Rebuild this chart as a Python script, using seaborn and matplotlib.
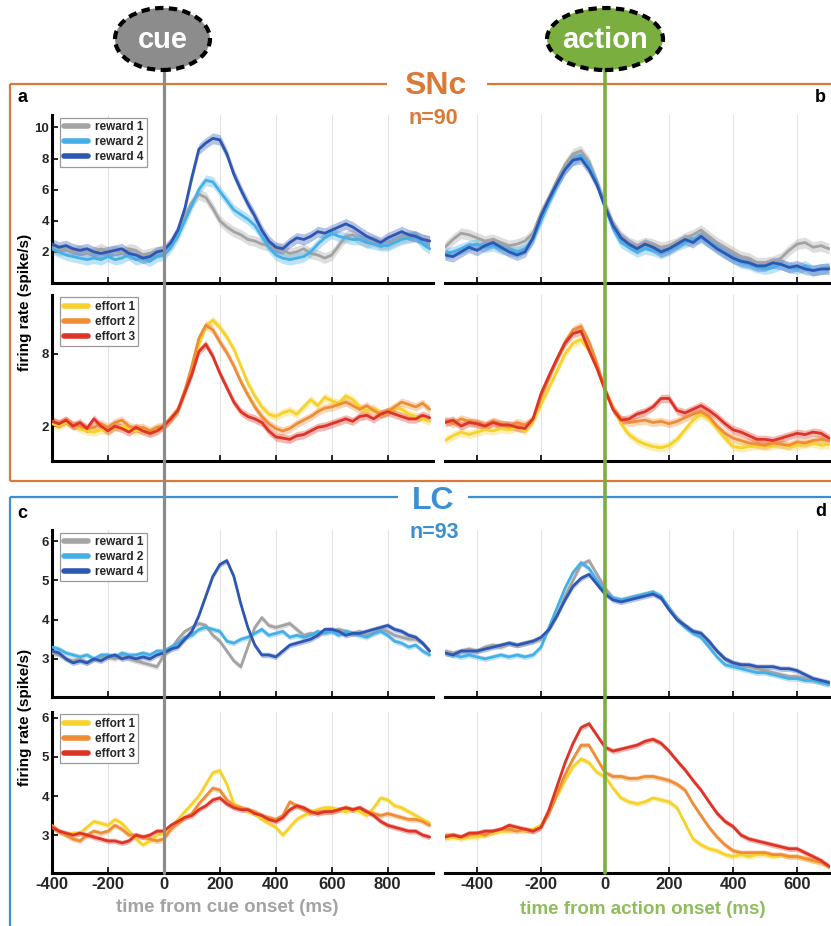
import numpy as np
import pandas as pd
import matplotlib
matplotlib.use("Agg")
import matplotlib.pyplot as plt
import seaborn as sns
from matplotlib.lines import Line2D
from matplotlib.patches import Ellipse
from matplotlib.transforms import blended_transform_factory

# ---------------- data ----------------
cue_time = np.arange(-400, 951, 25)      # ms from cue onset
action_time = np.arange(-500, 701, 25)   # ms from action onset

reward_labels = ["reward 1", "reward 2", "reward 4"]
effort_labels = ["effort 1", "effort 2", "effort 3"]

# SNc, cue aligned, reward
snc_cue_r1 = [2.3,2.1,2.2,2.0, 2.1,1.9,2.0,2.2, 2.0,2.1,1.9,2.2, 2.1,1.8,1.9,2.0,
              2.0,2.5,3.2,4.3, 5.2,5.7,5.5,4.8, 4.0,3.6,3.3,3.1, 2.8,2.7,2.5,2.4,
              2.2,2.1,1.9,2.0, 2.2,1.9,1.8,1.6, 1.8,2.4,3.0,3.1, 2.8,2.6,2.7,2.5,
              2.5,2.7,2.9,3.0, 3.0,2.8,2.7]
snc_cue_r2 = [2.2,2.0,1.8,1.7, 1.6,1.5,1.6,1.5, 1.7,1.5,1.6,1.8, 1.5,1.6,1.4,1.7,
              1.8,2.3,3.0,4.0, 5.0,6.0,6.6,6.5, 5.9,5.3,4.7,4.4, 4.1,3.7,3.0,2.3,
              1.8,1.6,1.5,1.6, 1.7,2.0,2.5,2.9, 3.2,3.0,2.9,2.8, 2.8,2.6,2.5,2.4,
              2.4,2.6,2.8,2.9, 3.0,2.5,2.2]
snc_cue_r4 = [2.5,2.3,2.4,2.2, 2.1,2.2,2.0,1.9, 2.0,2.1,2.2,1.9, 1.8,1.6,1.7,2.0,
              2.1,2.6,3.4,4.8, 6.8,8.6,9.0,9.3, 9.2,8.3,7.0,6.0, 5.1,4.3,3.4,2.7,
              2.3,2.2,2.6,2.9, 2.8,3.0,3.3,3.2, 3.4,3.6,3.8,3.6, 3.3,3.0,2.8,2.6,
              2.9,3.1,3.3,3.1, 3.0,2.8,2.7]
# SNc, cue aligned, effort
snc_cue_e1 = [2.2,2.0,2.3,2.1, 1.8,1.6,1.5,1.7, 1.6,1.9,2.0,1.8, 1.6,1.7,1.5,1.8,
              2.0,2.6,3.3,4.8, 6.5,8.8,10.3,10.8, 10.2,9.4,8.4,7.0, 5.6,4.5,3.6,3.0,
              2.8,3.1,3.3,3.0, 3.6,4.2,3.7,4.4, 4.1,3.9,4.5,4.2, 3.6,3.2,3.5,3.0,
              3.2,3.5,3.4,3.0, 2.8,2.6,2.4]
snc_cue_e2 = [2.4,2.2,2.5,2.1, 2.0,1.8,1.9,2.2, 1.9,2.3,2.5,2.0, 1.8,1.9,1.6,1.9,
              2.0,2.7,3.4,5.0, 7.0,9.3,10.4,10.0, 9.0,8.1,7.0,5.7, 4.6,3.6,2.8,2.2,
              1.8,1.6,1.8,2.2, 2.5,2.8,3.2,3.5, 3.6,3.8,4.0,3.7, 3.4,3.7,3.3,3.0,
              3.2,3.6,4.0,3.8, 3.6,3.9,3.4]
snc_cue_e3 = [2.4,2.2,2.5,2.0, 2.3,1.8,2.6,2.0, 1.6,2.0,1.8,1.5, 1.9,1.6,1.4,1.6,
              2.0,2.6,3.3,4.8, 6.3,8.2,8.8,7.8, 6.4,5.2,4.0,3.2, 2.8,2.6,2.3,1.6,
              1.1,1.0,0.9,1.2, 1.3,1.6,1.9,2.0, 2.2,2.4,2.6,2.4, 2.8,2.9,2.6,3.0,
              3.2,3.0,2.8,2.6, 2.6,2.9,2.7]
# SNc, action aligned, reward
snc_act_r1 = [2.3,2.8,3.2,3.1, 2.9,2.7,2.8,2.6, 2.4,2.5,2.7,3.2, 4.5,5.5,6.6,7.6,
              8.3,8.5,7.8,6.5, 5.1,3.8,3.0,2.6, 2.4,2.6,2.5,2.3, 2.4,2.6,2.9,3.1,
              3.4,3.0,2.6,2.3, 2.0,1.7,1.6,1.3, 1.3,1.4,1.6,2.1, 2.5,2.6,2.3,2.4, 2.2]
snc_act_r2 = [1.9,2.0,2.2,2.4, 2.5,2.3,2.4,2.2, 2.1,2.0,2.2,2.8, 4.0,5.2,6.3,7.3,
              7.9,8.2,7.6,6.4, 4.9,3.5,2.6,2.3, 2.0,2.2,2.1,1.9, 2.1,2.4,2.6,2.8,
              2.9,2.6,2.3,1.9, 1.6,1.3,1.2,1.0, 0.9,1.0,1.2,1.0, 0.9,1.1,0.8,0.9, 1.0]
snc_act_r4 = [1.8,1.7,2.0,2.3, 2.1,2.4,2.6,2.3, 2.0,1.8,2.0,2.9, 4.3,5.4,6.4,7.3,
              7.9,8.0,7.3,6.3, 4.9,3.7,2.9,2.5, 2.2,2.5,2.3,2.0, 2.2,2.5,2.8,2.6,
              3.0,2.6,2.2,1.9, 1.6,1.4,1.3,1.1, 1.1,1.3,1.2,1.0, 1.1,0.9,0.8,0.9, 0.9]
# SNc, action aligned, effort
snc_act_e1 = [0.8,1.2,1.5,1.3, 1.5,1.7,1.6,1.8, 1.7,1.9,1.6,2.4, 3.8,5.2,6.6,8.0,
              8.9,9.2,8.3,6.8, 5.0,3.6,2.2,1.3, 0.8,0.5,0.3,0.2, 0.4,0.9,1.7,2.5,
              3.0,2.6,1.8,1.0, 0.3,0.2,0.3,0.4, 0.3,0.4,0.5,0.3, 0.4,0.5,0.6,0.4, 0.5]
snc_act_e2 = [2.5,2.2,2.6,2.4, 2.3,2.1,2.4,2.2, 2.0,2.3,2.1,2.6, 4.4,6.0,7.6,9.0,
              10.0,10.3,9.0,7.2, 5.0,3.4,2.6,2.3, 2.4,2.5,2.3,2.4, 2.2,2.4,2.7,3.0,
              3.2,2.8,2.0,1.4, 1.0,0.8,0.6,0.5, 0.4,0.6,0.5,0.4, 0.7,0.6,0.8,0.9, 0.8]
snc_act_e3 = [2.3,2.5,2.0,2.3, 2.2,2.0,2.3,2.1, 2.1,1.9,1.8,2.6, 4.7,6.2,7.6,8.9,
              9.7,9.9,8.3,6.8, 5.0,3.4,2.5,2.6, 3.0,3.2,3.6,4.3, 4.3,3.3,3.1,3.4,
              3.7,3.3,2.8,2.2, 1.7,1.5,1.2,0.9, 0.9,0.8,1.0,1.2, 1.4,1.3,1.5,1.4, 1.0]
# LC, cue aligned, reward
lc_cue_r1 = [3.15,3.1,3.0,2.95, 3.0,2.9,3.0,3.05, 3.05,3.0,3.1,3.0, 2.95,2.9,2.85,2.8,
             3.1,3.25,3.5,3.7, 3.8,3.9,3.85,3.6, 3.45,3.2,2.95,2.8, 3.3,3.8,4.05,3.85,
             3.8,3.85,3.9,3.75, 3.6,3.65,3.6,3.7, 3.7,3.75,3.7,3.65, 3.7,3.6,3.65,3.75,
             3.7,3.6,3.55,3.5, 3.5,3.4,3.2]
lc_cue_r2 = [3.3,3.25,3.15,3.1, 3.05,3.1,3.0,3.1, 3.1,3.05,3.15,3.1, 3.1,3.15,3.1,3.2,
             3.2,3.3,3.4,3.55, 3.6,3.75,3.8,3.75, 3.7,3.45,3.4,3.5, 3.55,3.65,3.75,3.6,
             3.65,3.7,3.55,3.6, 3.55,3.6,3.7,3.65, 3.7,3.6,3.7,3.65, 3.6,3.55,3.65,3.7,
             3.6,3.45,3.4,3.3, 3.35,3.2,3.1]
lc_cue_r4 = [3.2,3.15,3.0,2.9, 2.95,2.9,3.0,2.95, 3.05,3.1,3.0,3.05, 3.0,3.05,3.0,3.1,
             3.15,3.25,3.3,3.5, 3.7,4.1,4.6,5.1, 5.4,5.5,5.1,4.4, 3.8,3.35,3.1,3.1,
             3.05,3.2,3.35,3.4, 3.45,3.5,3.6,3.75, 3.75,3.7,3.6,3.65, 3.65,3.7,3.75,3.8,
             3.85,3.75,3.7,3.6, 3.55,3.4,3.2]
# LC, cue aligned, effort
lc_cue_e1 = [3.2,3.1,3.0,3.05, 3.05,3.2,3.35,3.3, 3.25,3.4,3.3,3.1, 2.9,2.75,2.85,3.0,
             3.05,3.2,3.4,3.6, 3.8,4.0,4.3,4.6, 4.65,4.3,3.8,3.7, 3.6,3.55,3.4,3.3,
             3.2,3.0,3.2,3.4, 3.5,3.6,3.65,3.7, 3.7,3.65,3.6,3.65, 3.6,3.5,3.7,3.95,
             3.9,3.75,3.7,3.6, 3.5,3.4,3.3]
lc_cue_e2 = [3.25,3.1,3.0,2.9, 2.85,3.0,3.1,3.05, 3.1,3.25,3.15,3.0, 3.0,2.95,2.9,2.85,
             2.9,3.15,3.3,3.45, 3.55,3.8,4.0,4.2, 4.15,3.9,3.75,3.7, 3.65,3.6,3.5,3.45,
             3.4,3.5,3.85,3.75, 3.65,3.55,3.6,3.6, 3.6,3.65,3.7,3.65, 3.7,3.6,3.55,3.5,
             3.55,3.5,3.45,3.4, 3.4,3.35,3.25]
lc_cue_e3 = [3.2,3.1,3.05,3.0, 3.05,3.0,2.95,2.9, 2.85,2.85,2.8,2.85, 3.0,2.95,3.0,3.1,
             3.1,3.25,3.35,3.45, 3.5,3.65,3.75,3.9, 3.95,3.8,3.7,3.65, 3.65,3.55,3.5,3.4,
             3.35,3.45,3.65,3.75, 3.7,3.6,3.55,3.6, 3.6,3.65,3.7,3.65, 3.7,3.6,3.5,3.35,
             3.25,3.2,3.15,3.1, 3.1,3.0,2.95]
# LC, action aligned, reward
lc_act_r1 = [3.2,3.15,3.2,3.25, 3.2,3.3,3.35,3.3, 3.4,3.35,3.4,3.45, 3.5,3.75,4.1,4.6,
             5.0,5.4,5.5,5.15, 4.8,4.55,4.5,4.55, 4.6,4.65,4.7,4.55, 4.3,4.05,3.85,3.7,
             3.65,3.4,3.2,3.0, 2.9,2.85,2.8,2.75, 2.7,2.65,2.6,2.55, 2.55,2.5,2.45,2.4, 2.35]
lc_act_r2 = [3.15,3.1,3.05,3.1, 3.05,3.0,3.05,3.1, 3.05,3.1,3.05,3.1, 3.3,3.8,4.3,4.8,
             5.2,5.45,5.3,5.0, 4.7,4.55,4.5,4.55, 4.6,4.65,4.7,4.6, 4.3,4.0,3.8,3.65,
             3.55,3.3,3.05,2.85, 2.8,2.75,2.7,2.65, 2.65,2.6,2.55,2.5, 2.5,2.45,2.45,2.4, 2.35]
lc_act_r4 = [3.15,3.1,3.2,3.2, 3.2,3.25,3.3,3.35, 3.4,3.35,3.4,3.45, 3.55,3.75,4.1,4.5,
             4.85,5.05,5.15,4.9, 4.65,4.5,4.45,4.5, 4.55,4.6,4.65,4.55, 4.25,4.0,3.85,3.7,
             3.65,3.45,3.2,3.0, 2.9,2.85,2.85,2.8, 2.8,2.8,2.75,2.75, 2.7,2.6,2.5,2.45, 2.4]
# LC, action aligned, effort
lc_act_e1 = [2.9,2.95,2.9,2.95, 2.95,3.0,3.05,3.1, 3.1,3.15,3.1,3.15, 3.25,3.6,4.0,4.4,
             4.75,4.95,4.85,4.6, 4.5,4.2,3.95,3.85, 3.8,3.85,3.95,3.9, 3.85,3.7,3.3,2.9,
             2.75,2.65,2.6,2.5, 2.45,2.5,2.45,2.5, 2.5,2.45,2.5,2.45, 2.45,2.4,2.35,2.3, 2.2]
lc_act_e2 = [3.0,3.0,2.95,3.0, 3.05,3.0,3.1,3.15, 3.15,3.1,3.15,3.1, 3.2,3.55,4.05,4.55,
             4.95,5.3,5.3,4.95, 4.6,4.5,4.5,4.45, 4.45,4.5,4.5,4.45, 4.4,4.3,4.15,3.8,
             3.5,3.2,2.95,2.75, 2.6,2.55,2.55,2.55, 2.55,2.5,2.5,2.45, 2.45,2.4,2.35,2.3, 2.2]
lc_act_e3 = [2.95,3.0,2.95,3.05, 3.05,3.1,3.1,3.15, 3.25,3.2,3.15,3.1, 3.2,3.65,4.25,4.85,
             5.35,5.75,5.85,5.55, 5.25,5.15,5.2,5.25, 5.3,5.4,5.45,5.35, 5.15,4.9,4.67,4.4,
             4.15,3.85,3.56,3.35, 3.22,3.0,2.9,2.85, 2.8,2.75,2.7,2.65, 2.65,2.55,2.45,2.35, 2.2]

snc_sem = 0.35
lc_sem = 0.07

cue_xticks = [-400, -200, 0, 200, 400, 600, 800]
action_xticks = [-400, -200, 0, 200, 400, 600]

# ---------------- style ----------------
reward_colors = ["#a3a3a3", "#45b0e8", "#2d57b3"]
effort_colors = ["#f6d22b", "#ef8d36", "#de3427"]
SNC_COL = "#db7a38"
LC_COL = "#3b8fd4"
CUE_COL = "#8c8c8c"
ACT_COL = "#7aae3f"

sns.set_theme(style="white")
plt.rcParams["font.family"] = ["Liberation Sans", "DejaVu Sans"]
plt.rcParams["font.weight"] = "bold"
plt.rcParams["axes.unicode_minus"] = False

W, H = 831, 926
fig = plt.figure(figsize=(W / 100, H / 100), dpi=100)
fig.patch.set_facecolor("white")


def rect(x0, y0, x1, y1):
    return [x0 / W, 1 - y1 / H, (x1 - x0) / W, (y1 - y0) / H]


def fx(x):
    return x / W


def fy(y):
    return 1 - y / H


rows = [(115, 283), (295, 461), (530, 697), (712, 873)]
cols = [(52, 433), (445, 830)]

panels = [
    (0, [snc_cue_r1, snc_cue_r2, snc_cue_r4], [snc_act_r1, snc_act_r2, snc_act_r4],
     reward_labels, reward_colors, snc_sem, (0, 10.8), [2, 4, 6, 8, 10]),
    (1, [snc_cue_e1, snc_cue_e2, snc_cue_e3], [snc_act_e1, snc_act_e2, snc_act_e3],
     effort_labels, effort_colors, snc_sem, (-0.9, 12.9), [2, 8]),
    (2, [lc_cue_r1, lc_cue_r2, lc_cue_r4], [lc_act_r1, lc_act_r2, lc_act_r4],
     reward_labels, reward_colors, lc_sem, (2.03, 6.28), [3, 4, 5, 6]),
    (3, [lc_cue_e1, lc_cue_e2, lc_cue_e3], [lc_act_e1, lc_act_e2, lc_act_e3],
     effort_labels, effort_colors, lc_sem, (2.03, 6.15), [3, 4, 5, 6]),
]


def draw(ax, t, series, labels, colors, sem):
    df = pd.DataFrame({
        "time": np.tile(t, len(series)),
        "rate": np.concatenate([np.asarray(s, float) for s in series]),
        "cond": np.repeat(labels, len(t)),
    })
    for s, c in zip(series, colors):
        s = np.asarray(s, float)
        ax.fill_between(t, s - sem, s + sem, color=c, alpha=0.35, lw=0, zorder=2)
    sns.lineplot(data=df, x="time", y="rate", hue="cond", hue_order=labels,
                 palette=dict(zip(labels, colors)), lw=2.0, ax=ax,
                 legend=False, errorbar=None, zorder=3)


axes = {}
for (r, left_s, right_s, labels, colors, sem, ylim, yticks) in panels:
    y0, y1 = rows[r]
    for c, (t, series, xlim, xt) in enumerate([
            (cue_time, left_s, (-400, 962), cue_xticks),
            (action_time, right_s, (-500, 703), action_xticks)]):
        x0, x1 = cols[c]
        ax = fig.add_axes(rect(x0, y0, x1, y1))
        axes[(r, c)] = ax
        draw(ax, t, series, labels, colors, sem)
        ax.set_xlim(*xlim)
        ax.set_ylim(*ylim)
        ax.set_xticks(xt)
        ax.set_yticks(yticks)
        ax.set_xlabel("")
        ax.set_ylabel("")
        ax.grid(True, axis="x", color="#e2e2e2", lw=0.8)
        ax.grid(False, axis="y")
        ax.set_axisbelow(True)
        for sp in ["top", "right"]:
            ax.spines[sp].set_visible(False)
        ax.spines["bottom"].set_color("black")
        ax.spines["bottom"].set_linewidth(2.2)
        if c == 0:
            ax.spines["left"].set_color("black")
            ax.spines["left"].set_linewidth(2.2)
            ax.tick_params(axis="y", direction="in", length=4, width=1.4,
                           labelsize=9.5, pad=2, left=True)
        else:
            ax.spines["left"].set_visible(False)
            ax.tick_params(axis="y", left=False, labelleft=False)
        ax.tick_params(axis="x", direction="in", length=4, width=1.4,
                       labelsize=12, pad=3, bottom=True,
                       labelbottom=(r == 3))
        if c == 0:
            handles = [Line2D([], [], color=col, lw=4) for col in colors]
            leg = ax.legend(handles, labels, loc="upper left",
                            bbox_to_anchor=(0.022, 0.985), borderaxespad=0,
                            prop={"weight": "bold", "size": 8.5},
                            frameon=True, fancybox=False, framealpha=1,
                            edgecolor="#9a9a9a", handlelength=2.0,
                            borderpad=0.3, labelspacing=0.25,
                            handletextpad=0.6)
            leg.get_frame().set_linewidth(0.9)

# ---------------- region boxes ----------------
def fline(xs, ys, color, lw, z=1):
    fig.add_artist(Line2D([fx(x) for x in xs], [fy(y) for y in ys],
                          color=color, lw=lw, zorder=z, solid_capstyle="butt"))


fline([10, 387], [84, 84], SNC_COL, 1.6)
fline([487, 831], [84, 84], SNC_COL, 1.6)
fline([10, 10], [84, 481], SNC_COL, 1.6)
fline([10, 831], [481, 481], SNC_COL, 1.6)
fline([10, 398], [497, 497], LC_COL, 1.6)
fline([468, 831], [497, 497], LC_COL, 1.6)
fline([10, 10], [497, 926], LC_COL, 1.6)

fig.text(fx(435), fy(86), "SNc", color=SNC_COL, fontsize=23, weight="bold",
         ha="center", va="center")
fig.text(fx(433), fy(118), "n=90", color=SNC_COL, fontsize=15.5, weight="bold",
         ha="center", va="center")
fig.text(fx(433), fy(501), "LC", color=LC_COL, fontsize=23, weight="bold",
         ha="center", va="center")
fig.text(fx(434), fy(532), "n=93", color=LC_COL, fontsize=15.5, weight="bold",
         ha="center", va="center")

for lab, (x, y) in zip("abcd", [(22, 97), (820, 97), (22, 513), (821, 511)]):
    fig.text(fx(x), fy(y), lab, fontsize=13, weight="bold", color="black",
             ha="center", va="center")

fig.text(fx(25), fy(302), "firing rate (spike/s)", rotation=90, fontsize=11,
         weight="bold", ha="center", va="center", color="black")
fig.text(fx(25), fy(717), "firing rate (spike/s)", rotation=90, fontsize=11,
         weight="bold", ha="center", va="center", color="black")

fig.text(fx(227), fy(908), "time from cue onset (ms)", fontsize=13.5,
         weight="bold", color="#a3a3a3", ha="center", va="center")
fig.text(fx(643), fy(910), "time from action onset (ms)", fontsize=13.5,
         weight="bold", color="#8ebd5c", ha="center", va="center")

# ---------------- event markers ----------------
tr_cue = blended_transform_factory(axes[(0, 0)].transData, fig.transFigure)
tr_act = blended_transform_factory(axes[(0, 1)].transData, fig.transFigure)
fig.add_artist(Line2D([0, 0], [fy(68), fy(873)], transform=tr_cue,
                      color=CUE_COL, lw=2.3, zorder=6))
fig.add_artist(Line2D([0, 0], [fy(68), fy(873)], transform=tr_act,
                      color=ACT_COL, lw=2.6, zorder=6))

for (cx, w, col, txt) in [(162.5, 95, CUE_COL, "cue"), (605, 116, ACT_COL, "action")]:
    fig.add_artist(Ellipse((fx(cx), fy(39)), w / W, 62 / H,
                           transform=fig.transFigure, facecolor=col,
                           edgecolor="black", lw=3, ls=(0, (2.0, 1.3)),
                           zorder=7))
    fig.text(fx(cx), fy(40), txt, color="white", fontsize=21, weight="bold",
             ha="center", va="center", zorder=8)

fig.savefig("out.png", dpi=100)
